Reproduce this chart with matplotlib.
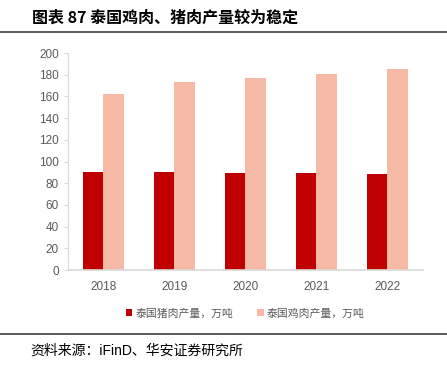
import numpy as np
import matplotlib
matplotlib.use('Agg')
from matplotlib import pyplot as plt

plt.rcParams['font.family'] = ['Liberation Sans', 'Noto Sans CJK SC', 'DejaVu Sans']

years = ['2018', '2019', '2020', '2021', '2022']
pork = [90.6, 90.0, 89.1, 89.1, 88.9]
chicken = [162.5, 173.5, 177.0, 181.0, 185.0]
pork_label = '泰国猪肉产量，万吨'
chicken_label = '泰国鸡肉产量，万吨'
title = '图表 87 泰国鸡肉、猪肉产量较为稳定'
source = '资料来源：iFinD、华安证券研究所'

fig = plt.figure(figsize=(4.47, 3.66), dpi=100)
ax = fig.add_axes([0.152, 0.262, 0.794, 0.593])

x = np.arange(len(years))
w = 0.29
ax.bar(x - w/2, pork, w, color='#C00000', label=pork_label)
ax.bar(x + w/2, chicken, w, color='#F5B9A5', label=chicken_label)

ax.set_xlim(-0.5, len(years) - 0.5)
ax.set_ylim(0, 200)
ax.set_yticks(range(0, 201, 20))
ax.set_xticks(x)
ax.set_xticklabels(years)
for s in ['top', 'right']:
    ax.spines[s].set_visible(False)
ax.spines['left'].set_color('#D9D9D9')
ax.spines['bottom'].set_color('#D9D9D9')
ax.spines['bottom'].set_linewidth(1.2)
ax.tick_params(axis='y', colors='#D9D9D9', labelcolor='#595959', labelsize=8.5, length=3)
ax.tick_params(axis='x', length=0, labelcolor='#595959', labelsize=8.5, pad=8)

ax.legend(loc='upper center', bbox_to_anchor=(0.5, -0.13), ncol=2, frameon=False,
          prop={'family': ['Noto Sans CJK SC'], 'size': 7.8}, labelcolor='#595959',
          handlelength=0.6, handleheight=0.6, handletextpad=0.3, columnspacing=2.2)

fig.text(0.072, 0.951, title, fontsize=11.5, fontweight='bold', va='center', ha='left',
         family=['Noto Sans CJK SC', 'Liberation Sans'])
fig.add_artist(plt.Line2D([0, 1], [0.913, 0.913], color='#404040', lw=1.2))
fig.add_artist(plt.Line2D([0, 1], [0.087, 0.087], color='#404040', lw=1.2))
fig.text(0.067, 0.043, source, fontsize=10, va='center', ha='left')

fig.savefig('out.png', dpi=100)
